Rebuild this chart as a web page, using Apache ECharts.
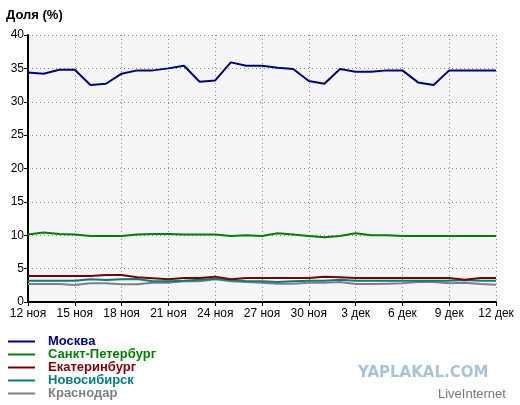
<!DOCTYPE html>
<html>
<head>
<meta charset="utf-8">
<script src="https://cdn.jsdelivr.net/npm/echarts@6/dist/echarts.min.js"></script>
<style>
  html, body { margin: 0; padding: 0; background: #fff; }
  #chart { width: 520px; height: 405px; }
</style>
</head>
<body>
<div id="chart"></div>
<script>
// days, 12 ноя .. 12 дек
var days = ['12 ноя', '13 ноя', '14 ноя', '15 ноя', '16 ноя', '17 ноя', '18 ноя', '19 ноя', '20 ноя', '21 ноя',
  '22 ноя', '23 ноя', '24 ноя', '25 ноя', '26 ноя', '27 ноя', '28 ноя', '29 ноя', '30 ноя',
  '1 дек', '2 дек', '3 дек', '4 дек', '5 дек', '6 дек', '7 дек', '8 дек', '9 дек', '10 дек', '11 дек', '12 дек']

var moscow = [34.4, 34.2, 34.8, 34.8, 32.5, 32.7, 34.2, 34.7, 34.7, 35.0, 35.4, 33.0, 33.2, 35.9, 35.4, 35.4,
  35.1, 34.9, 33.1, 32.7, 34.9, 34.5, 34.5, 34.7, 34.7, 32.9, 32.5, 34.7, 34.7, 34.7, 34.7]
var spb = [10.1, 10.4, 10.2, 10.1, 9.9, 9.9, 9.9, 10.1, 10.2, 10.2, 10.1, 10.1, 10.1, 9.9, 10.0, 9.9,
  10.3, 10.1, 9.9, 9.7, 9.9, 10.3, 10.0, 10.0, 9.9, 9.9, 9.9, 9.9, 9.9, 9.9, 9.9]
var ekb = [3.9, 3.9, 3.9, 3.9, 3.9, 4.05, 4.05, 3.7, 3.55, 3.4, 3.6, 3.6, 3.8, 3.4, 3.6, 3.6,
  3.6, 3.6, 3.6, 3.8, 3.7, 3.6, 3.6, 3.6, 3.6, 3.6, 3.6, 3.6, 3.35, 3.6, 3.6]
var nsk = [3.2, 3.2, 3.2, 3.2, 3.4, 3.3, 3.4, 3.45, 3.1, 3.1, 3.2, 3.35, 3.5, 3.3, 3.1, 3.1,
  3.0, 3.1, 3.2, 3.2, 3.35, 3.2, 3.2, 3.2, 3.2, 3.2, 3.2, 3.2, 3.3, 3.2, 3.2]
var krd = [2.7, 2.7, 2.7, 2.55, 2.8, 2.8, 2.65, 2.65, 2.9, 2.9, 3.1, 3.1, 3.4, 3.1, 3.0, 2.9,
  2.75, 2.75, 2.9, 2.9, 3.0, 2.7, 2.7, 2.75, 2.8, 3.0, 3.0, 2.8, 2.9, 2.7, 2.6]

var cities = ['Москва', 'Санкт-Петербург', 'Екатеринбург', 'Новосибирск', 'Краснодар']
var colors = ['#000080', '#008000', '#800000', '#008080', '#808080']
var values = [moscow, spb, ekb, nsk, krd]

var chart = echarts.init(document.getElementById('chart'))

var series = []
// draw bottom cities first so Moscow etc. stays on top like the original
for (var i = cities.length - 1; i >= 0; i--) {
  series.push({
    name: cities[i],
    type: 'line',
    data: values[i],
    symbol: 'none',
    animation: false,
    lineStyle: { color: colors[i], width: 2 },
    itemStyle: { color: colors[i] }
  })
}

chart.setOption({
  textStyle: { fontFamily: 'Liberation Sans, Arial, sans-serif' },
  title: {
    text: 'Доля (%)',
    left: 1,
    top: 4,
    textStyle: { fontSize: 13, fontWeight: 'bold', color: '#000' }
  },
  grid: {
    left: 28,
    right: 24,
    top: 35,
    bottom: 103,
    show: true,
    backgroundColor: '#f5f5f5',
    borderWidth: 0
  },
  legend: {
    orient: 'vertical',
    left: 8,
    top: 335,
    height: 70,
    padding: 0,
    icon: 'rect',
    itemWidth: 27,
    itemHeight: 2,
    itemGap: 0,
    selectedMode: false,
    textStyle: { fontSize: 13, fontWeight: 'bold', lineHeight: 13, padding: [0, 0, 0, 8] },
    data: cities.map(function (c, i) {
      return { name: c, textStyle: { color: colors[i] } }
    })
  },
  xAxis: {
    type: 'category',
    data: days,
    boundaryGap: false,
    axisLine: { lineStyle: { color: '#000', width: 2 } },
    axisTick: { show: true, interval: 2, length: 4, lineStyle: { color: '#000' } },
    axisLabel: { interval: 2, color: '#000', fontSize: 12, margin: 6 },
    splitLine: { show: true, interval: 2, lineStyle: { color: '#888', type: [1, 3], width: 1 } }
  },
  yAxis: {
    type: 'value',
    min: 0,
    max: 40,
    interval: 5,
    axisLine: { show: true, lineStyle: { color: '#000', width: 2 } },
    axisTick: { show: true, length: 4, lineStyle: { color: '#000' } },
    axisLabel: { color: '#000', fontSize: 12, margin: 4 },
    splitLine: { show: true, lineStyle: { color: '#888', type: [1, 3], width: 1 } }
  },
  graphic: [
    {
      type: 'text',
      left: 358,
      top: 366,
      style: { text: 'YAPLAKAL.COM', fill: '#a9c3da', font: 'bold 15px "DejaVu Sans", sans-serif' }
    },
    {
      type: 'text',
      left: 438,
      top: 388,
      style: { text: 'LiveInternet', fill: '#777', font: '13px "Liberation Sans", Arial, sans-serif' }
    }
  ],
  series: series
})
</script>
</body>
</html>
